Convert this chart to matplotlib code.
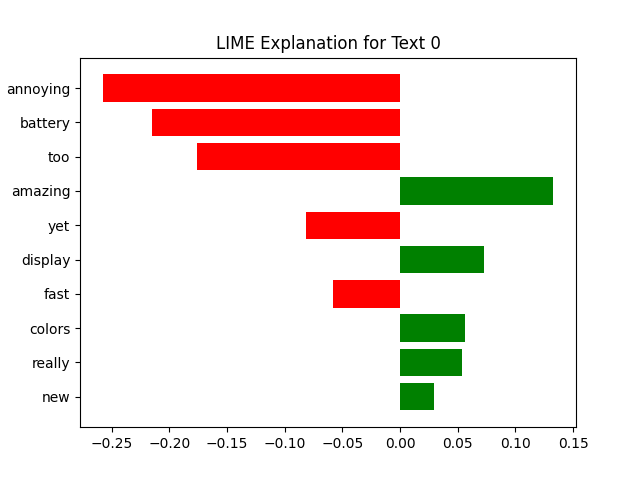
import matplotlib
matplotlib.use("Agg")
import matplotlib.pyplot as plt
import numpy as np

# feature weights, top to bottom as shown
words = ['annoying', 'battery', 'too', 'amazing', 'yet',
         'display', 'fast', 'colors', 'really', 'new']
weights = [-0.258, -0.215, -0.1765, 0.133, -0.0817,
           0.073, -0.058, 0.0565, 0.054, 0.0296]

# LIME draws from the bottom up
vals = weights[::-1]
names = words[::-1]
colors = ['green' if v > 0 else 'red' for v in vals]
pos = np.arange(len(vals)) + .5

fig = plt.figure(figsize=(6.4, 4.8), dpi=100)
plt.barh(pos, vals, align='center', color=colors)
plt.yticks(pos, names)
plt.title('LIME Explanation for Text 0')
plt.savefig('out.png')
